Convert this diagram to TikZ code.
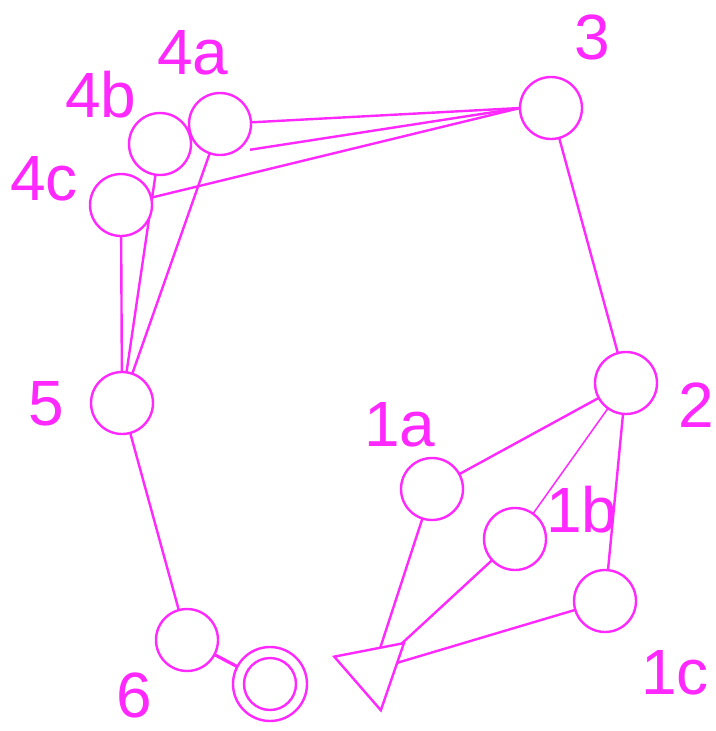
\documentclass[tikz,border=0pt]{standalone}
\usepackage{fontspec}
\setmainfont{Liberation Sans}
\usetikzlibrary{shapes.geometric,backgrounds}
\definecolor{mag}{RGB}{255,40,255}
\tikzset{
  st/.style={circle,draw=mag,fill=white,line width=2.4pt,minimum size=62pt,inner sep=0pt,outer sep=0pt},
  lbl/.style={text=mag,anchor=base,inner sep=0pt,font=\fontsize{64}{64}\selectfont},
  edge/.style={draw=mag,line width=2.4pt},
  thinedge/.style={draw=mag,line width=1.5pt},
  tri/.style={regular polygon,regular polygon sides=3,shape border rotate=-49,draw=mag,fill=white,line width=2.4pt,minimum size=82pt,inner sep=0pt,outer sep=0pt}
}
\begin{document}
\begin{tikzpicture}[x=1pt,y=-1pt]
\useasboundingbox (0,0) rectangle (715,731);
% nodes
\node[st] (n3) at (551,108) {};
\node[st] (n2) at (626,383) {};
\node[st] (n1a) at (432,489) {};
\node[st] (n1b) at (515,539) {};
\node[st] (n1c) at (605,601) {};
\node[st] (n4b) at (160,144) {};
\node[st] (n4a) at (220,124) {};
\node[st] (n4c) at (121,205) {};
\node[st] (n5) at (122,403) {};
\node[st] (n6) at (187,640) {};
\node[st,minimum size=74pt] (fin) at (270,684) {};
\node[circle,draw=mag,line width=2.4pt,minimum size=52pt,inner sep=0pt] (fin2) at (270,684) {};
\node[tri] (t) at (373,670) {};
% edges
\begin{pgfonlayer}{background}
\draw[edge] (n3) -- (n2);
\draw[edge] (n4a) -- (n3.west);
\draw[edge,shorten <=64pt] (n4b.-30) -- (n3.west);
\draw[edge] (n4c) -- (n3.west);
\draw[edge] (n4a) -- (n5);
\draw[edge] (n4b) -- (n5);
\draw[edge] (n4c) -- (n5);
\draw[edge] (n5) -- (n6);
\draw[draw=mag,line width=3.2pt] (n6) -- (fin);
\draw[edge] (n2) -- (n1a);
\draw[thinedge] (n2) -- (n1b);
\draw[edge] (n2) -- (n1c);
\draw[edge] (n1a) -- (t);
\draw[edge] (n1b) -- (t);
\draw[edge] (n1c) -- (t);
\end{pgfonlayer}
% labels
\node[lbl] (l3) at (592,59) {3};
\node[lbl] (l4a) at (193,74) {4a};
\node[lbl] (l4b) at (101,117) {4b};
\node[lbl] (l4c) at (44,200) {4c};
\node[lbl] (l5) at (46,425) {5};
\node[lbl] (l2) at (696,427) {2};
\node[lbl] (l1a) at (400,446) {1a};
\node[lbl] (l1b) at (582,532) {1b};
\node[lbl] (l1c) at (675,694) {1c};
\node[lbl] (l6) at (134,717) {6};
\end{tikzpicture}
\end{document}
